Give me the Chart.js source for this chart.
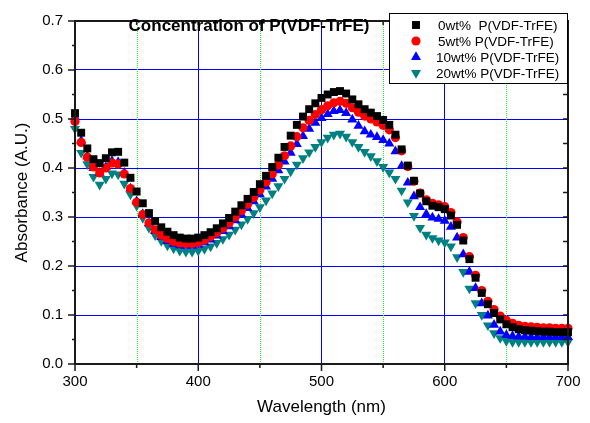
<!DOCTYPE html>
<html>
<head>
<meta charset="utf-8">
<script src="https://cdn.jsdelivr.net/npm/chart.js@4/dist/chart.umd.min.js"></script>
<style>
  body { margin: 0; background: #fff; }
  #wrap { width: 590px; height: 423px; }
</style>
</head>
<body>
<div id="wrap"><canvas id="absChart" width="590" height="423"></canvas></div>
<script>
// Data: wavelength grid (nm) and absorbance
const wavelengths = [
  300, 305, 310, 315, 320, 325, 330, 335, 340, 345,
  350, 355, 360, 365, 370, 375, 380, 385, 390, 395,
  400, 405, 410, 415, 420, 425, 430, 435, 440, 445,
  450, 455, 460, 465, 470, 475, 480, 485, 490, 495,
  500, 505, 510, 515, 520, 525, 530, 535, 540, 545,
  550, 555, 560, 565, 570, 575, 580, 585, 590, 595,
  600, 605, 610, 615, 620, 625, 630, 635, 640, 645,
  650, 655, 660, 665, 670, 675, 680, 685, 690, 695,
  700
];

const abs0wt = [
  0.512, 0.472, 0.440, 0.418, 0.410, 0.420, 0.432, 0.433, 0.411, 0.380,
  0.352, 0.328, 0.308, 0.292, 0.279, 0.270, 0.263, 0.258, 0.256, 0.256,
  0.258, 0.263, 0.269, 0.277, 0.287, 0.298, 0.311, 0.324, 0.337, 0.351,
  0.367, 0.384, 0.402, 0.421, 0.443, 0.466, 0.488, 0.505, 0.520, 0.532,
  0.543, 0.550, 0.555, 0.557, 0.552, 0.540, 0.530, 0.520, 0.513, 0.506,
  0.498, 0.488, 0.468, 0.438, 0.405, 0.374, 0.348, 0.332, 0.323, 0.320,
  0.316, 0.303, 0.284, 0.252, 0.214, 0.176, 0.145, 0.122, 0.104, 0.091,
  0.081, 0.075, 0.071, 0.069, 0.068, 0.067, 0.066, 0.066, 0.065, 0.065,
  0.065
];

const abs5wt = [
  0.495, 0.452, 0.422, 0.402, 0.390, 0.400, 0.410, 0.408, 0.388, 0.358,
  0.330, 0.305, 0.288, 0.274, 0.263, 0.256, 0.250, 0.247, 0.246, 0.246,
  0.248, 0.253, 0.260, 0.268, 0.277, 0.288, 0.300, 0.313, 0.326, 0.340,
  0.355, 0.371, 0.388, 0.406, 0.425, 0.445, 0.464, 0.482, 0.497, 0.509,
  0.519, 0.527, 0.533, 0.536, 0.532, 0.523, 0.514, 0.506, 0.500, 0.494,
  0.487, 0.478, 0.462, 0.435, 0.403, 0.373, 0.349, 0.335, 0.328, 0.325,
  0.321, 0.309, 0.290, 0.258, 0.219, 0.181, 0.150, 0.128, 0.111, 0.098,
  0.089, 0.083, 0.079, 0.077, 0.076, 0.075, 0.074, 0.074, 0.073, 0.073,
  0.073
];

const abs10wt = [
  0.504, 0.456, 0.424, 0.400, 0.390, 0.402, 0.414, 0.412, 0.390, 0.358,
  0.332, 0.306, 0.287, 0.271, 0.259, 0.251, 0.245, 0.242, 0.241, 0.241,
  0.243, 0.248, 0.254, 0.262, 0.271, 0.281, 0.293, 0.305, 0.318, 0.332,
  0.346, 0.362, 0.378, 0.395, 0.413, 0.431, 0.449, 0.465, 0.480, 0.492,
  0.502, 0.510, 0.516, 0.518, 0.512, 0.499, 0.486, 0.475, 0.468, 0.463,
  0.457, 0.450, 0.434, 0.404, 0.370, 0.342, 0.320, 0.306, 0.299, 0.296,
  0.292, 0.280, 0.258, 0.224, 0.188, 0.155, 0.124, 0.099, 0.080, 0.066,
  0.059, 0.057, 0.056, 0.056, 0.055, 0.055, 0.055, 0.055, 0.055, 0.055,
  0.055
];

const abs20wt = [
  0.480, 0.431, 0.408, 0.382, 0.366, 0.378, 0.389, 0.387, 0.368, 0.346,
  0.323, 0.298, 0.278, 0.263, 0.251, 0.242, 0.236, 0.231, 0.229, 0.229,
  0.231, 0.235, 0.240, 0.247, 0.255, 0.264, 0.274, 0.285, 0.296, 0.308,
  0.320, 0.334, 0.348, 0.363, 0.378, 0.393, 0.407, 0.420, 0.432, 0.443,
  0.453, 0.462, 0.468, 0.470, 0.464, 0.453, 0.443, 0.433, 0.424, 0.414,
  0.402, 0.391, 0.378, 0.354, 0.330, 0.302, 0.278, 0.264, 0.257, 0.252,
  0.248, 0.240, 0.218, 0.188, 0.154, 0.124, 0.100, 0.079, 0.063, 0.053,
  0.047, 0.045, 0.045, 0.045, 0.045, 0.045, 0.045, 0.045, 0.045, 0.045,
  0.045
];

const seriesLabels = ["0wt%  P(VDF-TrFE)", "5wt% P(VDF-TrFE)", "10wt% P(VDF-TrFE)", "20wt% P(VDF-TrFE)"];
const seriesValues = [abs0wt, abs5wt, abs10wt, abs20wt];
const seriesColors = ["#000000", "#ff0000", "#0000ff", "#008080"];
const seriesStyles = [
  { pointStyle: "rect",     radius: 5.6, rotation: 0 },
  { pointStyle: "circle",   radius: 4.6, rotation: 0 },
  { pointStyle: "triangle", radius: 5.8, rotation: 0 },
  { pointStyle: "triangle", radius: 5.8, rotation: 180 },
];

const xMinorLines = [350, 450, 550, 650];
const chartTitle  = "Concentration of P(VDF-TrFE)";
const FONT = "Arial, 'Liberation Sans', sans-serif";


// Datasets: one scatter set per concentration
const datasets = seriesValues.map(function (vals, i) {
  return {
    label:           seriesLabels[i],
    data:            wavelengths.map(function (w, j) { return { x: w, y: vals[j] }; }),
    showLine:        false,
    backgroundColor: seriesColors[i],
    borderColor:     seriesColors[i],
    borderWidth:     0,
    pointStyle:      seriesStyles[i].pointStyle,
    pointRadius:     seriesStyles[i].radius,
    pointRotation:   seriesStyles[i].rotation,
    pointHoverRadius: seriesStyles[i].radius,
    clip:            false,
  };
});


// Extra drawing: dotted minor grid, frame with ticks, title and boxed legend
const decorPlugin = {
  id: "decor",
  beforeDatasetsDraw: function (chart) {
    const ctx = chart.ctx;
    const a   = chart.chartArea;
    const xs  = chart.scales.x;
    ctx.save();
    ctx.strokeStyle = "#22ee22";
    ctx.lineWidth   = 1;
    ctx.setLineDash([1, 1]);
    xMinorLines.forEach(function (v) {
      const px = Math.round(xs.getPixelForValue(v)) + 0.5;
      ctx.beginPath();
      ctx.moveTo(px, a.top);
      ctx.lineTo(px, a.bottom);
      ctx.stroke();
    });
    ctx.restore();
  },
  afterDatasetsDraw: function (chart) {
    const ctx = chart.ctx;
    const a   = chart.chartArea;
    const xs  = chart.scales.x;
    const ys  = chart.scales.y;
    ctx.save();

    //frame
    ctx.strokeStyle = "#1a1a1a";
    ctx.lineWidth   = 2;
    ctx.strokeRect(a.left, a.top, a.right - a.left, a.bottom - a.top);

    //ticks
    ctx.lineWidth = 1.5;
    ctx.beginPath();
    for (let v = 300; v <= 700; v += 50) {
      const px = xs.getPixelForValue(v);
      const major = v % 100 === 0;
      ctx.moveTo(px, a.bottom);
      ctx.lineTo(px, a.bottom + (major ? 7 : 4));
      ctx.moveTo(px, a.top);
      ctx.lineTo(px, a.top + 4);
    }
    for (let k = 0; k <= 14; k++) {
      const py = ys.getPixelForValue(k * 0.05);
      const major = k % 2 === 0;
      ctx.moveTo(a.left, py);
      ctx.lineTo(a.left - (major ? 7 : 3), py);
      ctx.moveTo(a.right, py);
      ctx.lineTo(a.right - 5, py);
    }
    ctx.stroke();

    //title
    ctx.fillStyle    = "#000";
    ctx.font         = "bold 17px " + FONT;
    ctx.textAlign    = "center";
    ctx.textBaseline = "alphabetic";
    ctx.fillText(chartTitle, 249, 31);

    //legend box
    const lx = 389, ly = 13, lw = a.right - 389, lh = 70;
    ctx.fillStyle   = "#fff";
    ctx.fillRect(lx, ly, lw, lh);
    ctx.strokeStyle = "#000";
    ctx.lineWidth   = 1;
    ctx.strokeRect(lx + 0.5, ly + 0.5, lw - 1, lh);

    ctx.font         = "13.5px " + FONT;
    ctx.textAlign    = "left";
    ctx.textBaseline = "middle";
    seriesLabels.forEach(function (label, i) {
      const rowY = 25 + i * 16;
      ctx.fillStyle = seriesColors[i];
      Chart.helpers.drawPoint(ctx, {
        pointStyle: seriesStyles[i].pointStyle,
        radius:     seriesStyles[i].radius,
        rotation:   seriesStyles[i].rotation,
        borderWidth: 0,
      }, 416, rowY);
      ctx.fillStyle = "#000";
      ctx.fillText(label, i < 2 ? 438 : 436, rowY + 1);
    });
    ctx.restore();
  },
};


// Chart setup
new Chart(document.getElementById("absChart"), {
  type: "scatter",
  data: { datasets: datasets },
  options: {
    responsive: false,
    animation:  false,
    layout: { padding: { top: 14, right: 22, left: 0, bottom: 0 } },
    plugins: {
      legend:  { display: false },
      tooltip: { enabled: false },
    },
    scales: {
      x: {
        type: "linear",
        min: 300,
        max: 700,
        afterFit: function (s) { s.height = 59; },
        grid:   { color: "#0000ff", lineWidth: 1, drawTicks: false },
        border: { display: false },
        ticks:  {
          stepSize: 100,
          padding:  9,
          color:    "#000",
          font:     { family: FONT, size: 15 },
        },
        title: {
          display: true,
          text:    "Wavelength (nm)",
          color:   "#000",
          font:    { family: FONT, size: 17 },
          padding: { top: 0, bottom: 5 },
        },
      },
      y: {
        min: 0,
        max: 0.7,
        afterFit: function (s) { s.width = 75; },
        grid:   { color: "#0000ff", lineWidth: 1, drawTicks: false },
        border: { display: false },
        ticks:  {
          stepSize: 0.1,
          padding:  12,
          color:    "#000",
          font:     { family: FONT, size: 15 },
          callback: function (v) { return Number(v).toFixed(1); },
        },
        title: {
          display: true,
          text:    "Absorbance (A.U.)",
          color:   "#000",
          font:    { family: FONT, size: 17 },
          padding: { top: 12, bottom: 0 },
        },
      },
    },
  },
  plugins: [decorPlugin],
});
</script>
</body>
</html>
